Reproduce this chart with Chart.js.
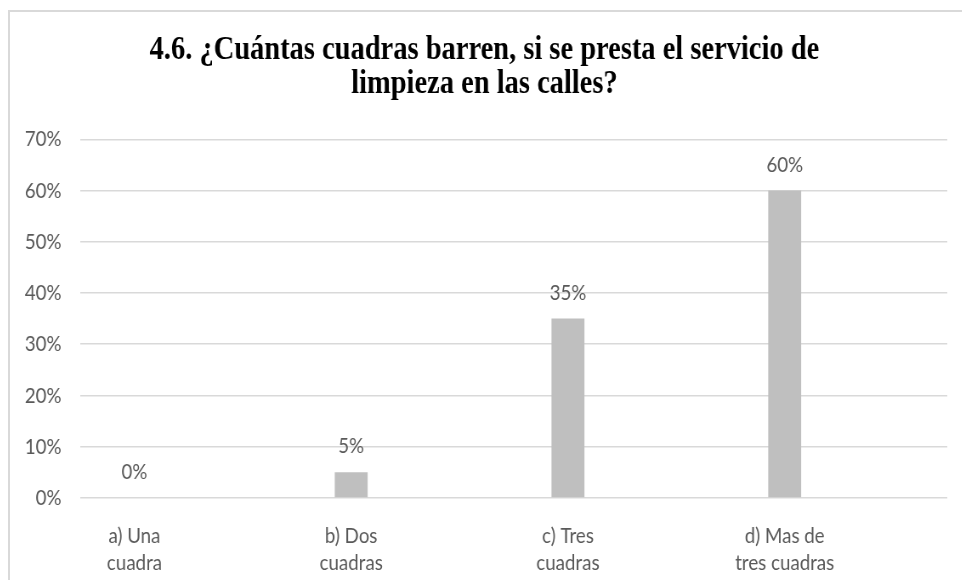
<!DOCTYPE html>
<html>
<head>
<meta charset="utf-8">
<script src="https://cdn.jsdelivr.net/npm/chart.js@4.4.1/dist/chart.umd.min.js"></script>
<style>
  html, body { margin: 0; padding: 0; background: #fff; overflow: hidden; }
  #wrap { position: relative; width: 962px; height: 580px; }
  #chart { position: absolute; left: 8px; top: 0; transform: scaleX(0.85); transform-origin: 0 0; }
  #frame {
    position: absolute; left: 8px; top: 10px; right: 0; bottom: 0;
    border-left: 2px solid #d9d9d9; border-top: 2px solid #d9d9d9;
    pointer-events: none;
  }
</style>
</head>
<body>
<div id="wrap">
  <canvas id="chart" width="1122" height="580"></canvas>
  <div id="frame"></div>
</div>
<script>
const titleLines = [
  "4.6. ¿Cuántas cuadras barren, si se presta el servicio de",
  "limpieza en las calles?",
];
const categories = [
  ["a) Una", "cuadra"],
  ["b) Dos", "cuadras"],
  ["c) Tres", "cuadras"],
  ["d) Mas de", "tres cuadras"],
];
const percentages = [0, 5, 35, 60];
// second series of the sheet is empty, it only takes its slot in each group
const blankSeries = [null, null, null, null];
const yMax = 70;
const yStep = 10;

const textGrey = "#595959";
const tickFont = { family: "Lato, 'Open Sans', sans-serif", size: 22, lineHeight: 1.23 };

// value labels above each bar
const barLabels = {
  id: "barLabels",
  afterDatasetsDraw(chart) {
    const ctx = chart.ctx;
    const meta = chart.getDatasetMeta(0);
    ctx.save();
    ctx.font = tickFont.size + "px " + tickFont.family;
    ctx.fillStyle = textGrey;
    ctx.textAlign = "center";
    ctx.textBaseline = "middle";
    meta.data.forEach(function (bar, i) {
      ctx.fillText(percentages[i] + "%", bar.x, bar.y - 26);
    });
    ctx.restore();
  },
};

new Chart("chart", {
  type: "bar",
  data: {
    labels: categories,
    datasets: [
      {
        label: "Porcentaje",
        data: percentages,
        backgroundColor: "#bfbfbf",
        categoryPercentage: 1.0,
        barPercentage: 0.304,
      },
      {
        label: "",
        data: blankSeries,
        backgroundColor: "#bfbfbf",
        categoryPercentage: 1.0,
        barPercentage: 0.304,
      },
    ],
  },
  options: {
    responsive: false,
    animation: false,
    layout: { padding: { left: 16, right: 17, top: 0, bottom: -20 } },
    plugins: {
      legend: { display: false },
      tooltip: { enabled: false },
      title: {
        display: true,
        text: titleLines,
        color: "#000",
        font: { family: "'Liberation Serif', 'Times New Roman', serif", size: 33.5, weight: "bold", lineHeight: 1.02 },
        padding: { top: 33, bottom: 38 },
      },
    },
    scales: {
      x: {
        grid: { display: false, drawTicks: false },
        border: { display: false },
        ticks: {
          color: textGrey,
          font: tickFont,
          padding: 24,
          maxRotation: 0,
          labelOffset: -63.75,
        },
      },
      y: {
        min: 0,
        max: yMax,
        afterFit(axis) {
          axis.width = 69;
        },
        grid: { color: "#d9d9d9", lineWidth: 1.5, drawTicks: false },
        border: { display: false },
        ticks: {
          stepSize: yStep,
          color: textGrey,
          font: tickFont,
          padding: 22,
          callback: function (v) {
            return v + "%";
          },
        },
      },
    },
  },
  plugins: [barLabels],
});
</script>
</body>
</html>
